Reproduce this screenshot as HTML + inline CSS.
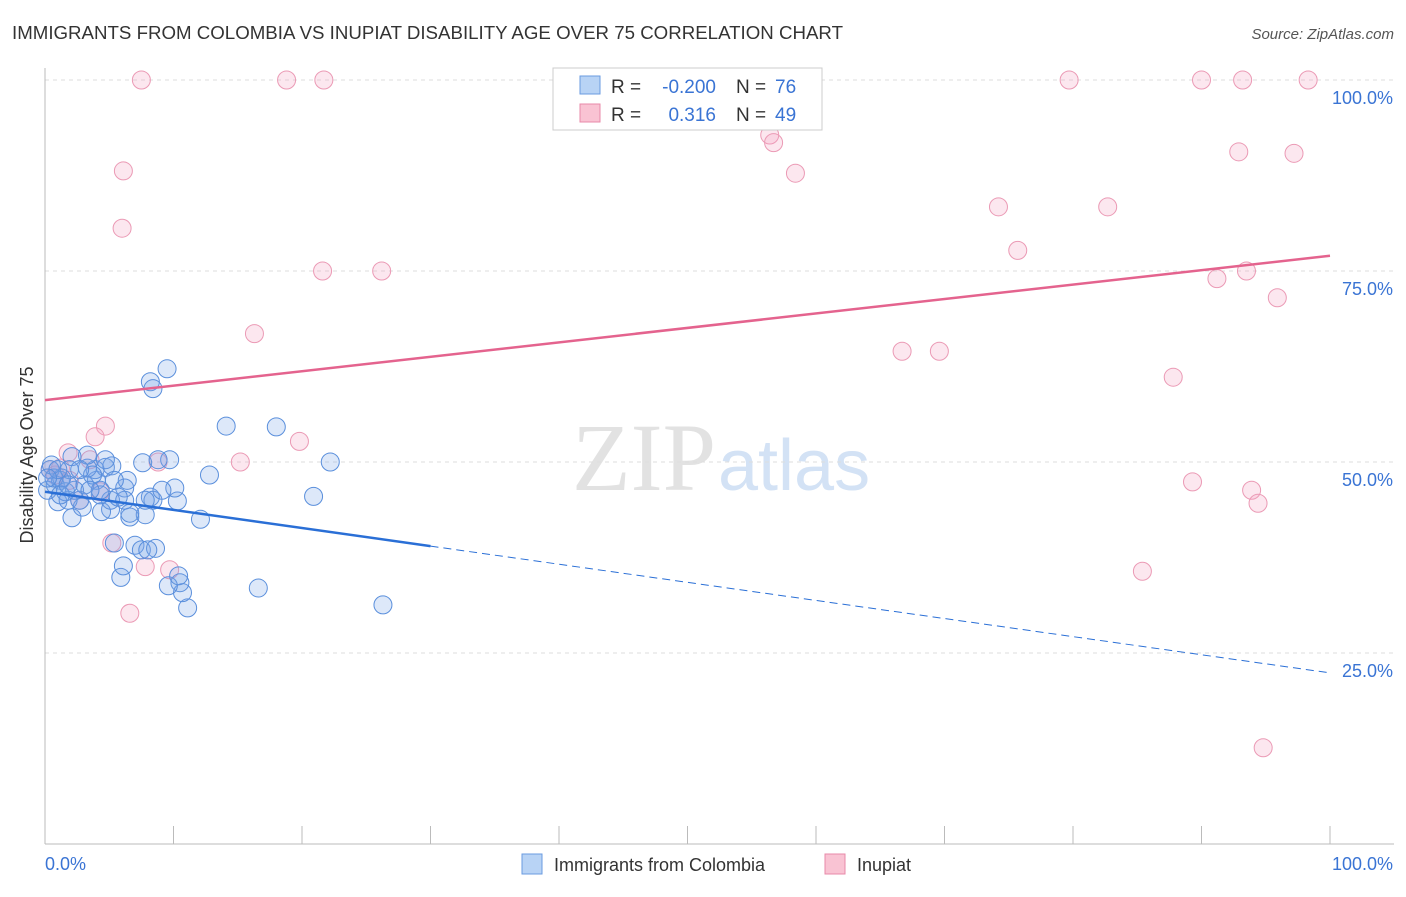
<!DOCTYPE html>
<html><head><meta charset="utf-8"><style>
body{margin:0;background:#fff;font-family:"Liberation Sans",sans-serif}
</style></head><body>
<svg width="1406" height="892" xmlns="http://www.w3.org/2000/svg" id="chart" style="font-family:'Liberation Sans',sans-serif">
<text x="12" y="39" font-size="18" fill="#333" textLength="831" lengthAdjust="spacingAndGlyphs">IMMIGRANTS FROM COLOMBIA VS INUPIAT DISABILITY AGE OVER 75 CORRELATION CHART</text>
<text x="1394" y="39" font-size="15" fill="#555" font-style="italic" text-anchor="end">Source: ZipAtlas.com</text>
<text x="716" y="490" font-size="96" fill="#e2e2e2" text-anchor="end" font-family="Liberation Serif">ZIP</text>
<text x="718" y="490" font-size="72" fill="#d3e2f5">atlas</text>
<text x="33" y="455" font-size="18" fill="#333" text-anchor="middle" transform="rotate(-90 33 455)">Disability Age Over 75</text>
<g id="grid"></g><g id="pts"></g><g id="trend"></g>
<g>
<rect x="553" y="68" width="269" height="62" fill="#fff" stroke="#ccc"/>
<rect x="580" y="76" width="20" height="18" fill="#b8d3f5" stroke="#6a9be0"/>
<rect x="580" y="104" width="20" height="18" fill="#f9c3d3" stroke="#e88aa8"/>
<text x="611" y="93" font-size="19" fill="#333">R =</text>
<text x="716" y="93" font-size="19" fill="#3a74d4" text-anchor="end">-0.200</text>
<text x="736" y="93" font-size="19" fill="#333">N =</text>
<text x="775" y="93" font-size="19" fill="#3a74d4">76</text>
<text x="611" y="121" font-size="19" fill="#333">R =</text>
<text x="716" y="121" font-size="19" fill="#3a74d4" text-anchor="end">0.316</text>
<text x="736" y="121" font-size="19" fill="#333">N =</text>
<text x="775" y="121" font-size="19" fill="#3a74d4">49</text>
</g>
<g>
<rect x="522" y="854" width="20" height="20" fill="#b8d3f5" stroke="#6a9be0"/>
<text x="554" y="871" font-size="18" fill="#333">Immigrants from Colombia</text>
<rect x="825" y="854" width="20" height="20" fill="#f9c3d3" stroke="#e88aa8"/>
<text x="857" y="871" font-size="18" fill="#333">Inupiat</text>
</g>
</svg>
<script>
const yTicks=[25,50,75,100];
const yTickLabels=["25.0%","50.0%","75.0%","100.0%"];
const xTickLabels=["0.0%","100.0%"];
const blueX=[9.5,8.2,8.4,14.1,18.0,22.2,20.9,12.8,12.1,16.6,26.3,11.1,10.7,10.5,9.6,10.4,5.9,6.1,7.0,7.5,8.6,8.0,5.4,6.6,7.8,6.6,5.1,4.4,2.1,2.9,1.0,1.8,2.7,8.2,8.4,10.3,10.1,9.1,7.8,5.1,6.2,6.4,4.0,3.9,3.3,4.7,5.2,3.3,2.1,4.7,7.6,9.7,8.8,6.2,1.2,0.4,0.8,0.2,1.6,4.3,5.7,3.1,3.7,1.9,1.3,2.3,4.3,0.7,0.5,1.2,3.5,2.7,5.4,1.8,1.0,0.2];
const blueY=[62.2,60.5,59.6,54.7,54.6,50.0,45.5,48.3,42.5,33.5,31.3,30.9,32.9,34.2,33.8,35.1,34.9,36.4,39.1,38.5,38.7,38.5,39.4,42.8,43.1,43.3,43.8,43.5,42.7,44.1,44.8,45.0,45.0,45.4,45.0,44.9,46.6,46.3,45.0,45.0,46.6,47.6,47.6,49.0,49.2,49.3,49.5,50.9,50.7,50.3,49.9,50.3,50.3,45.0,47.6,49.0,47.0,46.3,46.1,45.7,45.4,47.0,48.3,49.0,47.9,46.3,46.3,47.9,49.6,45.7,46.3,49.0,47.6,47.0,49.0,47.9];
const pinkX=[7.5,18.8,21.7,79.7,90.0,93.2,98.3,56.4,56.7,58.4,92.9,97.2,6.1,6.0,74.2,82.7,75.7,21.6,26.2,91.2,93.5,95.9,16.3,66.7,69.6,87.8,4.7,3.9,19.8,15.2,8.8,1.8,89.3,93.9,94.4,5.2,7.8,9.7,6.6,85.4,94.8,0.4,0.8,1.2,4.3,2.7,1.9,3.5,52.5];
const pinkY=[100,100,100,100,100,100,100,92.8,91.8,87.8,90.6,90.4,88.1,80.6,83.4,83.4,77.7,75.0,75.0,74.0,75.0,71.5,66.8,64.5,64.5,61.1,54.7,53.3,52.7,50.0,50.0,51.2,47.4,46.3,44.6,39.4,36.3,35.9,30.2,35.7,12.6,49.0,48.3,49.2,46.1,45.0,47.6,50.3,95.4];
const blueTrend=[46.1,22.4];
const pinkTrend=[58.1,77.0];
const NS="http://www.w3.org/2000/svg";
const X=v=>45+v*12.85, Y=v=>844-v*7.64;
function mk(tag,attrs,parent){const e=document.createElementNS(NS,tag);for(const k in attrs)e.setAttribute(k,attrs[k]);parent.appendChild(e);return e;}
const svg=document.getElementById('chart'),grid=document.getElementById('grid'),pts=document.getElementById('pts'),tr=document.getElementById('trend');
yTicks.forEach((t,i)=>{
 const l=mk('line',{x1:45,x2:1394,y1:Y(t),y2:Y(t),stroke:'#ddd','stroke-dasharray':'4 4'},grid);
 
 
 const tx=mk('text',{x:1393,y:Y(t)+24,'font-size':18,fill:'#3a74d4','text-anchor':'end'},grid);
 tx.textContent=yTickLabels[i];
 
 
});
const ya=mk('line',{x1:45,x2:45,y1:68,y2:844,stroke:'#bbb'},grid);


const xa=mk('line',{x1:45,x2:1394,y1:844,y2:844,stroke:'#bbb'},grid);


for(let i=1;i<=10;i++){const t=mk('line',{x1:X(i*10),x2:X(i*10),y1:826,y2:844,stroke:'#bbb'},grid);
 
 }
[[0,45,'start'],[100,1393,'end']].forEach((d,i)=>{const t=mk('text',{x:d[1],y:870,'font-size':18,fill:'#3a74d4','text-anchor':d[2]},grid);t.textContent=xTickLabels[i];
 
 });
pinkX.forEach((x,i)=>{const c=mk('circle',{cx:X(x),cy:Y(pinkY[i]),r:9,fill:'rgba(244,160,190,0.25)',stroke:'#eb9ab5','stroke-width':1},pts);
 
 });
blueX.forEach((x,i)=>{const c=mk('circle',{cx:X(x),cy:Y(blueY[i]),r:9,fill:'rgba(120,165,230,0.25)',stroke:'#5a8fdc','stroke-width':1},pts);
 
 });
const b=v=>blueTrend[0]+(blueTrend[1]-blueTrend[0])*v/100;
const l1=mk('line',{x1:X(0),y1:Y(b(0)),x2:X(30),y2:Y(b(30)),stroke:'#2a6fd6','stroke-width':2.5},tr);


const l2=mk('line',{x1:X(30),y1:Y(b(30)),x2:X(100),y2:Y(b(100)),stroke:'#2a6fd6','stroke-width':1,'stroke-dasharray':'8 5'},tr);


const l3=mk('line',{x1:X(0),y1:Y(pinkTrend[0]),x2:X(100),y2:Y(pinkTrend[1]),stroke:'#e4638e','stroke-width':2.5},tr);


</script>
</body></html>
